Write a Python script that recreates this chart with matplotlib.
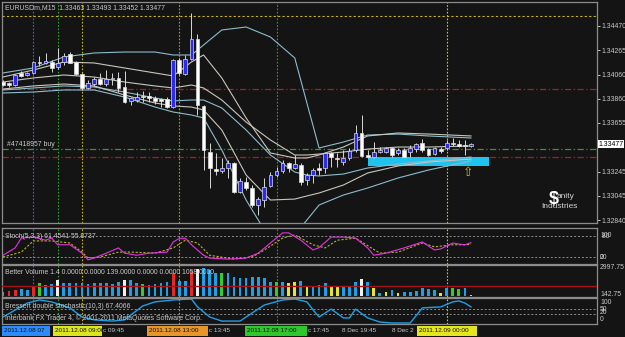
import matplotlib
matplotlib.use("Agg")
import matplotlib.pyplot as plt
from matplotlib.patches import Rectangle
from matplotlib.transforms import blended_transform_factory

W, H = 625, 337
BG = "#141414"
TXT = "#c8c8c8"
FS = 4.95
plt.rcParams["font.family"] = ["Liberation Sans", "DejaVu Sans"]
plt.rcParams["font.size"] = FS

# ---------------- data (EURUSDm M15, 2011.12.08 05:45 .. 2011.12.09 01:00) ----------------
opens = [1.33999, 1.33991, 1.33974, 1.34075, 1.34058, 1.34075, 1.34167, 1.34159, 1.34167, 1.34125,
         1.34167, 1.34234, 1.34167, 1.34066, 1.33949, 1.33982, 1.34024, 1.33982, 1.34024, 1.34033,
         1.33957, 1.33840, 1.33848, 1.33882, 1.33882, 1.33865, 1.33856, 1.33856, 1.33789, 1.34184,
         1.34066, 1.34192, 1.34360, 1.33798, 1.33411, 1.33268, 1.33252, 1.33277, 1.33319, 1.33075,
         1.33159, 1.33109, 1.32966, 1.33008, 1.33126, 1.33218, 1.33252, 1.33319, 1.33277, 1.33302,
         1.33176, 1.33218, 1.33277, 1.33277, 1.33403, 1.33361, 1.33327, 1.33361, 1.33428, 1.33571,
         1.33386, 1.33369, 1.33411, 1.33411, 1.33445, 1.33403, 1.33428, 1.33411, 1.33436, 1.33487,
         1.33436, 1.33394, 1.33436, 1.33445, 1.33487, 1.33478, 1.33470, 1.33462]
highs = [1.34016, 1.33999, 1.34066, 1.34092, 1.34083, 1.34176, 1.34218, 1.34243, 1.34184, 1.34285,
         1.34243, 1.34251, 1.34176, 1.34075, 1.34016, 1.34041, 1.34075, 1.34100, 1.34075, 1.34083,
         1.34092, 1.33873, 1.33915, 1.33924, 1.33915, 1.33882, 1.33865, 1.33873, 1.34192, 1.34201,
         1.34226, 1.34579, 1.34402, 1.33806, 1.33487, 1.33403, 1.33361, 1.33344, 1.33327, 1.33193,
         1.33201, 1.33134, 1.33033, 1.33193, 1.33243, 1.33285, 1.33344, 1.33327, 1.33386, 1.33319,
         1.33235, 1.33277, 1.33319, 1.33411, 1.33411, 1.33403, 1.33428, 1.33445, 1.33638, 1.33722,
         1.33428, 1.33495, 1.33453, 1.33453, 1.33453, 1.33445, 1.33445, 1.33470, 1.33487, 1.33520,
         1.33445, 1.33453, 1.33453, 1.33512, 1.33529, 1.33512, 1.33512, 1.33487]
lows = [1.33966, 1.33957, 1.33966, 1.34041, 1.34050, 1.34066, 1.34134, 1.34150, 1.34083, 1.34108,
        1.34142, 1.34159, 1.34058, 1.33932, 1.33940, 1.33966, 1.33974, 1.33966, 1.33974, 1.33915,
        1.33823, 1.33806, 1.33831, 1.33831, 1.33831, 1.33814, 1.33789, 1.33781, 1.33781, 1.34058,
        1.34058, 1.34184, 1.33722, 1.33260, 1.33109, 1.33218, 1.33235, 1.33193, 1.33067, 1.33067,
        1.33092, 1.32949, 1.32882, 1.32949, 1.33117, 1.33201, 1.33235, 1.33243, 1.33268, 1.33134,
        1.33134, 1.33151, 1.33218, 1.33235, 1.33285, 1.33285, 1.33302, 1.33344, 1.33411, 1.33369,
        1.33361, 1.33361, 1.33403, 1.33403, 1.33369, 1.33386, 1.33369, 1.33369, 1.33411, 1.33411,
        1.33378, 1.33386, 1.33403, 1.33428, 1.33462, 1.33453, 1.33386, 1.33453]
closes = [1.33974, 1.33974, 1.34058, 1.34050, 1.34075, 1.34167, 1.34159, 1.34176, 1.34117, 1.34159,
          1.34218, 1.34159, 1.34066, 1.33949, 1.33991, 1.34024, 1.33982, 1.34024, 1.34033, 1.33949,
          1.33831, 1.33865, 1.33873, 1.33873, 1.33865, 1.33840, 1.33840, 1.33789, 1.34184, 1.34075,
          1.34192, 1.34360, 1.33806, 1.33428, 1.33277, 1.33252, 1.33277, 1.33319, 1.33075, 1.33168,
          1.33109, 1.32966, 1.33016, 1.33117, 1.33218, 1.33252, 1.33319, 1.33277, 1.33310, 1.33159,
          1.33218, 1.33260, 1.33260, 1.33403, 1.33369, 1.33352, 1.33361, 1.33420, 1.33571, 1.33378,
          1.33369, 1.33411, 1.33428, 1.33445, 1.33386, 1.33428, 1.33369, 1.33445, 1.33478, 1.33428,
          1.33386, 1.33445, 1.33420, 1.33487, 1.33478, 1.33462, 1.33462, 1.33478]

# two sets of envelope bands, read at sample bars
band_idx = [0, 5, 10, 15, 20, 25, 28, 31, 33, 36, 40, 44, 48, 50, 52, 56, 60, 65, 70, 77]
band_cyan_up = [1.34075, 1.34117, 1.34209, 1.34243, 1.34251, 1.34251, 1.34226, 1.34226, 1.34310, 1.34436,
                1.34461, 1.34377, 1.34201, 1.33823, 1.33445, 1.33495, 1.33554, 1.33562, 1.33546, 1.33529]
band_gray_up = [1.34041, 1.34100, 1.34167, 1.34159, 1.34117, 1.34075, 1.34050, 1.34167, 1.34226, 1.34033,
                1.33697, 1.33403, 1.33361, 1.33361, 1.33386, 1.33453, 1.33546, 1.33571, 1.33562, 1.33546]
band_gray_mid = [1.33999, 1.34033, 1.34058, 1.34041, 1.33999, 1.33966, 1.33949, 1.33974, 1.33949, 1.33848,
                 1.33663, 1.33512, 1.33386, 1.33386, 1.33394, 1.33411, 1.33436, 1.33453, 1.33453, 1.33462]
band_cyan_mid = [1.33932, 1.33949, 1.33966, 1.33957, 1.33915, 1.33865, 1.33840, 1.33848, 1.33848, 1.33781,
                 1.33596, 1.33386, 1.33243, 1.33218, 1.33210, 1.33226, 1.33277, 1.33310, 1.33336, 1.33369]
band_gray_low = [1.33940, 1.33966, 1.33982, 1.33966, 1.33890, 1.33823, 1.33798, 1.33789, 1.33764, 1.33596,
                 1.33218, 1.33008, 1.33016, 1.33042, 1.33067, 1.33134, 1.33235, 1.33294, 1.33327, 1.33352]
band_cyan_low = [1.33907, 1.33915, 1.33932, 1.33932, 1.33873, 1.33789, 1.33747, 1.33722, 1.33697, 1.33428,
                 1.33008, 1.32672, 1.32714, 1.32840, 1.32966, 1.33050, 1.33109, 1.33193, 1.33260, 1.33336]

price_ticks = [1.34470, 1.34265, 1.34060, 1.33860, 1.33655, 1.33245, 1.33045, 1.32840]
last_price = 1.33477
order_price = 1.33436
red_levels = [1.33940, 1.33369]
yellow_level = 1.34554
zone = (60, 80, 1.33294, 1.33369)   # start bar, end bar, low, high
arrow_bar, arrow_price = 76.5, 1.33243

sep_idx = [5, 9, 13, 29, 45, 73]
sep_colors = ["#2f6fd0", "#2fa02f", "#c8b41e", "#d08a28", "#2fa02f", "#d2c81e"]

# stochastic(5,3,3)
stoch_k_idx = [0, 2, 3, 5, 7, 8, 9, 11, 13, 14, 15, 17, 19, 20, 22, 24, 27, 28, 29, 30, 31, 33, 34,
               37, 40, 42, 44, 46, 47, 49, 51, 52, 54, 56, 58, 60, 61, 63, 66, 69, 71, 72, 74, 75, 76, 77]
stoch_k = [25, 46, 74, 77, 68, 74, 55, 55, 31, 12, 17, 31, 46, 31, 25, 31, 34, 63, 73, 74, 55, 25, 17,
           14, 17, 31, 60, 89, 89, 68, 40, 47, 77, 77, 74, 46, 25, 31, 46, 63, 40, 43, 60, 57, 55, 61]
stoch_d_idx = [0, 3, 5, 8, 11, 13, 14, 16, 19, 21, 25, 28, 30, 32, 34, 38, 41, 43, 46, 48, 51, 53,
               55, 58, 62, 65, 69, 71, 74, 76, 77]
stoch_d = [20, 34, 66, 66, 60, 34, 17, 20, 34, 34, 31, 46, 68, 60, 25, 14, 20, 40, 74, 83, 55, 46,
           68, 74, 31, 34, 60, 49, 55, 55, 56]
stoch_levels = [80, 20]

# better volume
vols = [485, 590, 666, 742, 666, 1008, 1370, 1189, 1293, 1712,
        1427, 1370, 1370, 1370, 1293, 1370, 1427, 1370, 1293, 1541,
        1712, 1712, 1370, 1255, 1189, 1293, 1370, 1541, 2406, 1636,
        1607, 2692, 2825, 2998, 2758, 2473, 2406, 2406, 2064, 1883,
        1883, 2064, 2064, 1883, 1541, 1541, 1541, 1427, 1541, 1636,
        1008, 1084, 1189, 1370, 1084, 1008, 1084, 1084, 1503, 1788,
        1503, 837, 390, 495, 666, 390, 495, 495, 590, 837,
        770, 666, 390, 837, 837, 742, 904, 139]
vol_kind = ["b", "r", "r", "b", "b", "r", "g", "b", "b", "w",
            "b", "b", "b", "b", "b", "b", "b", "b", "b", "b",
            "w", "b", "b", "g", "b", "b", "b", "b", "r", "b",
            "b", "r", "w", "b", "b", "b", "g", "b", "b", "b",
            "b", "b", "b", "b", "b", "g", "b", "y", "y", "b",
            "y", "b", "b", "b", "y", "y", "b", "b", "b", "w",
            "b", "y", "b", "y", "b", "y", "b", "b", "b", "b",
            "b", "b", "y", "b", "g", "g", "b", "y"]
vol_avg = 1058

# bressert double stochastic(10,3)
br_idx = [0, 2, 4, 6, 8, 11, 13, 15, 18, 20, 21, 23, 25, 28, 31, 32, 34, 36, 39, 41,
          43, 46, 48, 50, 51, 52, 54, 56, 57, 58, 60, 62, 64, 67, 69, 72, 74, 75, 76, 77]
br_val = [25, 54, 83, 96, 88, 63, 25, 13, 8, 13, 33, 71, 88, 96, 100, 67, 25, 8, 8, 42,
          75, 96, 100, 88, 55, 25, 58, 21, 21, 58, 21, 4, 0, 0, 63, 67, 88, 92, 83, 67]
br_levels = [58, 37]

VOL_COLORS = {"b": "#1ea0e6", "r": "#e62828", "g": "#32cd32", "w": "#f0f0f0", "y": "#e6e628"}
SPACING = 6.078          # pixels per bar
CYAN_BAND = "#8cbccb"
GRAY_BAND = "#c8c6bc"


def pane(fig, top, bottom, ylim):
    ax = fig.add_axes([2 / W, 1 - bottom / H, 595 / W, (bottom - top) / H])
    ax.set_facecolor(BG)
    ax.set_xlim((2 - 3) / SPACING, (597 - 3) / SPACING)
    ax.set_ylim(*ylim)
    for s in ax.spines.values():
        s.set_color("#8c8c8c")
        s.set_linewidth(0.9)
    ax.set_xticks([])
    ax.set_yticks([])
    for i, c in zip(sep_idx, sep_colors):
        ax.axvline(i, color=c, lw=0.8, ls=(0, (1.5, 1.5)))
    return ax


def rlabel(ax, y, s, **kw):
    tr = blended_transform_factory(ax.transAxes, ax.transData)
    ax.text(1.005, y, s, transform=tr, color=TXT, fontsize=FS, va="center", ha="left",
            clip_on=False, **kw)


def ftext(x, y, s, **kw):
    kw.setdefault("fontsize", FS)
    fig.text(x / W, 1 - y / H, s, va="center", ha="left", **kw)


fig = plt.figure(figsize=(W / 100, H / 100), dpi=100, facecolor=BG)

# ---- main price pane ----
ax = pane(fig, 2, 223, (1.32815, 1.34671))
ax.axhline(yellow_level, color="#c8b41e", lw=0.8, ls=(0, (2, 2)))
for lv in red_levels:
    ax.axhline(lv, color="#b01c1c", lw=0.9, ls=(0, (5, 2, 1, 2)))
ax.axhline(order_price, color="#2f9a2f", lw=0.9, ls=(0, (5, 2, 1, 2)))
ax.add_patch(Rectangle((zone[0], zone[2]), zone[1] - zone[0], zone[3] - zone[2],
                       facecolor="#1ec3ee", edgecolor="none", zorder=2))
for vals, col in [(band_cyan_up, CYAN_BAND), (band_cyan_mid, CYAN_BAND), (band_cyan_low, CYAN_BAND),
                  (band_gray_up, GRAY_BAND), (band_gray_mid, GRAY_BAND), (band_gray_low, GRAY_BAND)]:
    ax.plot(band_idx, vals, color=col, lw=0.8, zorder=3)

x = list(range(len(opens)))
body_lo = [min(o, c) for o, c in zip(opens, closes)]
body_h = [max(abs(c - o), 0.00003) for o, c in zip(opens, closes)]
body_c = ["#2828ff" if c > o else "#ffffff" for o, c in zip(opens, closes)]
ax.vlines(x, lows, highs, color="#d8d8d8", lw=0.7, zorder=4)
ax.bar(x, body_h, bottom=body_lo, width=0.62, color=body_c, edgecolor="#dcdcdc",
       linewidth=0.5, zorder=5)

ax.yaxis.tick_right()
ax.set_yticks(price_ticks)
ax.set_yticklabels([f"{p:.5f}" for p in price_ticks])
ax.tick_params(axis="y", colors="#e0e0e0", labelcolor=TXT, labelsize=FS, length=2, width=0.6, pad=1)
tr = blended_transform_factory(ax.transAxes, ax.transData)
ax.text(1.003, last_price, f"{last_price:.5f}", transform=tr, color="black", fontsize=FS,
        va="center", ha="left", clip_on=False,
        bbox=dict(facecolor="white", edgecolor="none", pad=0.4))
ax.text(arrow_bar, arrow_price, "\u21e7", color="#c8c81e", fontsize=9, ha="center",
        va="center", zorder=6, family="DejaVu Sans")

ftext(5, 8, "EURUSDm,M15  1.33463 1.33493 1.33452 1.33477", color=TXT)
ftext(7, 145, "#47418957 buy", color=TXT)
# watermark
ftext(549, 200, "$", color="white", fontsize=13, fontweight="bold")
ftext(557, 197, "anity", color="#d0d0d0", fontsize=6)
ftext(541, 206, "Industries", color="#d0d0d0", fontsize=6)

# ---- stochastic pane ----
ax2 = pane(fig, 228, 264, (0, 102.9))
for lv in stoch_levels:
    ax2.axhline(lv, color="#8c8c8c", lw=0.7, ls=(0, (2, 2)))
ax2.plot(stoch_d_idx, stoch_d, color="#b4b41e", lw=0.8, ls=(0, (2, 1.5)))
ax2.plot(stoch_k_idx, stoch_k, color="#e632e6", lw=0.8)
ftext(5, 237, "Stoch(5,3,3) 61.4541 55.8737", color=TXT)
rlabel(ax2, 81, "100")
rlabel(ax2, 80, " 80")
rlabel(ax2, 20, "20")
rlabel(ax2, 18, "0")

# ---- volume pane ----
ax3 = pane(fig, 265, 297, (-66.5, 3280.75))
ax3.bar(x, vols, width=0.45, color=[VOL_COLORS[k] for k in vol_kind], zorder=2)
ax3.axhline(vol_avg, color="#a01414", lw=1.0, zorder=3)
ftext(5, 273, "Better Volume 1.4 0.0000 0.0000 139.0000 0.0000 0.0000 1058.0000", color=TXT)
rlabel(ax3, 2997.75, "2997.75")
rlabel(ax3, 142.75, "142.75")

# ---- bressert pane ----
ax4 = pane(fig, 298, 324, (-4.2, 104.2))
for lv in br_levels:
    ax4.axhline(lv, color="#8c8c8c", lw=0.7, ls=(0, (2, 2)))
ax4.plot(br_idx, br_val, color="#1ea0e6", lw=1.0)
ftext(5, 307, "Bressert double stochastic(10,3) 67.4066", color=TXT)
ftext(5, 318, "Interbank FX Trader 4, \u00a9 2001-2011 MetaQuotes Software Corp.", color=TXT)
rlabel(ax4, 85, "100")
rlabel(ax4, 58, "50")
rlabel(ax4, 45, "20")
rlabel(ax4, 15, "0")

# ---- time axis ----
boxes = [(2, 50, "#2a8cff", "2011.12.08 07"), (53, 102, "#dce61e", "2011.12.08 09:00"),
         (147, 208, "#e8962a", "2011.12.08 13:00"), (245, 307, "#2ec82e", "2011.12.08 17:00"),
         (417, 477, "#e6e61e", "2011.12.09 00:00")]
for x0, x1, col, s in boxes:
    fig.patches.append(Rectangle((x0 / W, 1 - 336 / H), (x1 - x0) / W, 10 / H,
                                 transform=fig.transFigure, facecolor=col, edgecolor="none"))
    ftext(x0 + 2, 331, s, color="#101010", fontsize=4.6)
time_labels = [(103, "c 09:45"), (209, "c 13:45"), (308, "c 17:45"),
               (342, "8 Dec 19:45"), (392, "8 Dec 2")]
for xp, s in time_labels:
    ftext(xp, 331, s, color=TXT, fontsize=4.6)

fig.savefig("out.png", dpi=100, facecolor=BG)
